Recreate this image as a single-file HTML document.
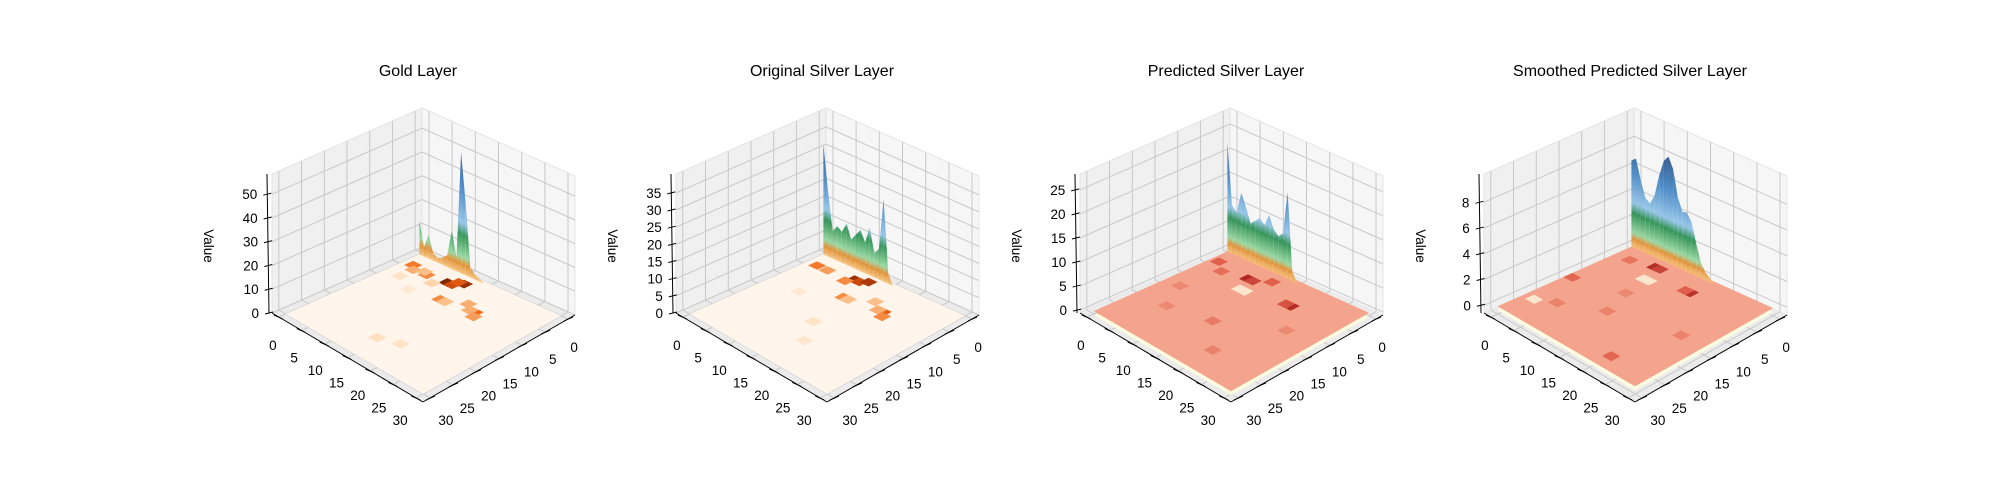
<!DOCTYPE html>
<html><head><meta charset="utf-8"><style>
html,body{margin:0;padding:0;background:#fff;}
svg{display:block;font-family:"Liberation Sans",sans-serif;}
</style></head><body>
<svg id="chart" width="2000" height="500" viewBox="0 0 2000 500" xmlns="http://www.w3.org/2000/svg">
<defs id="defs"></defs>
</svg>
<script>
// ---- data ----
const panelTitles = ["Gold Layer","Original Silver Layer","Predicted Silver Layer","Smoothed Predicted Silver Layer"];
const zTicks1 = [0,10,20,30,40,50];
const zTicks2 = [0,5,10,15,20,25,30,35];
const zTicks3 = [0,5,10,15,20,25];
const zTicks4 = [0,2,4,6,8];
const xyTicks = [0,5,10,15,20,25,30];
// ridge heights along the back edge (index = grid coordinate 0..)
const ridge1 = [14,4,10,3,2,3,5,16,6,51,30,4,2,1,0];
const ridge2 = [32,19,8,10,9,12,8,10,12,9,14,7,9,24,3,0];
const ridge3 = [22.5,10,9,13.5,11,8,9,10,9,11.5,9,8,9,18,2,0];
const ridge4 = [6.7,7,5.5,4.3,4,4.8,6.5,7.8,8.3,7.5,5.5,4.5,4.6,4,2.5,1.2,0.6,0.3,0];
// floor hot cells: [a, b, intensity]
const cells1 = [[9.6,4.2,1],[10.6,4.2,0.8],[11.8,2.8,0.95],[10.8,3,0.7],[1.9,3.9,0.55],[3,5,0.4],[5.6,4.7,0.5],[4.6,4.2,0.35],[12.6,8.8,0.5],[13.6,8.8,0.35],[19.2,8,0.6],[18.2,8,0.4],[20,9,0.45],[16.7,6.8,0.4],[14,24,0.18],[17.7,22.6,0.15],[7,10,0.1],[3,8,0.15],[8,6,0.25]];
const cells2 = [[9.3,3.2,0.95],[10.3,3.2,0.8],[11.4,2.3,0.9],[8.5,4.5,0.5],[2,4,0.55],[4.2,4,0.45],[12,8.4,0.5],[13,8.4,0.35],[19.6,7.5,0.65],[18.6,7.5,0.4],[20.5,8.5,0.5],[16.5,6,0.35],[14,17,0.15],[17,22,0.12],[6,12,0.1]];
const cells3 = [[8.6,4.8,0.95],[9.6,4.8,0.7],[19.4,6.4,0.9],[18.4,6.4,0.6],[1.5,4,0.5],[4,6,0.4],[12,3,0.5],[14,18,0.3],[20,24,0.25],[6,20,0.2],[3,14,0.2],[24,12,0.2]];
const light3 = [[10,8],[11,8]];
const cells4 = [[7.4,2.9,0.9],[8.4,2.9,0.7],[17,5,0.85],[16,5,0.5],[1,14.6,0.45],[21.6,26.8,0.45],[5,22,0.25],[12,18,0.25],[3,4,0.35],[25,15,0.25],[10,12,0.2]];
const light4 = [[8.8,6.8],[9.8,6.8],[2,24]];

const svg = document.getElementById('chart');
const defs = document.getElementById('defs');
const NS = "http://www.w3.org/2000/svg";
function el(tag, attrs, parent){ const e=document.createElementNS(NS,tag); for(const k in attrs) e.setAttribute(k,attrs[k]); (parent||svg).appendChild(e); return e; }

const panelCfg = [
 {zmin:0, zmax:58.5, zt:zTicks1, ridge:ridge1, cells:cells1, light:[], kind:'cream'},
 {zmin:0, zmax:40.5, zt:zTicks2, ridge:ridge2, cells:cells2, light:[], kind:'cream'},
 {zmin:-0.6, zmax:28.3, zt:zTicks3, ridge:ridge3, cells:cells3, light:light3, kind:'red'},
 {zmin:-0.6, zmax:10.2, zt:zTicks4, ridge:ridge4, cells:cells4, light:light4, kind:'red'}
];
const CB={x:422,y:247}, CL={x:272,y:313}, CR={x:575,y:315}, CF={x:423,y:402};
const DX = 404, HZ = 139;

function lerpC(c1,c2,t){ const p=c1.match(/\w\w/g).map(h=>parseInt(h,16)), q=c2.match(/\w\w/g).map(h=>parseInt(h,16)); return 'rgb('+p.map((v,i)=>Math.round(v+(q[i]-v)*t)).join(',')+')'; }
function ramp(stops,t){ t=Math.max(0,Math.min(1,t)); for(let i=1;i<stops.length;i++){ if(t<=stops[i][0]){ const a=stops[i-1],b=stops[i]; return lerpC(a[1],b[1],(t-a[0])/(b[0]-a[0])); } } return lerpC(stops[stops.length-1][1],stops[stops.length-1][1],0); }
const oranges=[[0,'fff5eb'],[0.3,'fdd0a2'],[0.6,'f16913'],[0.85,'c4420b'],[1,'7f2704']];
const reds=[[0,'f4a48c'],[0.5,'e0604c'],[1,'a8201e']];

panelCfg.forEach((cfg,pi)=>{
  const off = DX*pi;
  const k = HZ/(cfg.zmax-cfg.zmin);
  function P(a,b,z){ const s=(a+1.5)/33, t=(b+1.5)/33;
    const x=CB.x*(1-s)*(1-t)+CR.x*s*(1-t)+CL.x*(1-s)*t+CF.x*s*t+off;
    const y=CB.y*(1-s)*(1-t)+CR.y*s*(1-t)+CL.y*(1-s)*t+CF.y*s*t-(z-cfg.zmin)*k;
    return [x,y]; }
  const pts = arr => arr.map(p=>p.map(v=>v.toFixed(1)).join(',')).join(' ');
  const g = el('g',{});
  
  
  const zmn=cfg.zmin, zmx=cfg.zmax;
  const lw=el('polygon',{points:pts([P(-1.5,-1.5,zmn),P(-1.5,31.5,zmn),P(-1.5,31.5,zmx),P(-1.5,-1.5,zmx)]),fill:'#f0f0f0',stroke:'#e0e0e0','stroke-width':0.8},g);
   
  const rw=el('polygon',{points:pts([P(-1.5,-1.5,zmn),P(31.5,-1.5,zmn),P(31.5,-1.5,zmx),P(-1.5,-1.5,zmx)]),fill:'#f6f6f6',stroke:'#e0e0e0','stroke-width':0.8},g);
   
  const fl=el('polygon',{points:pts([P(-1.5,-1.5,zmn),P(31.5,-1.5,zmn),P(31.5,31.5,zmn),P(-1.5,31.5,zmn)]),fill:'#ebebeb'},g);
   
  const gg=el('g',{stroke:'#c8c8c8','stroke-width':1,fill:'none'},g);
   
  xyTicks.forEach(v=>{
    el('polyline',{points:pts([P(-1.5,v,zmx),P(-1.5,v,zmn),P(31.5,v,zmn)])},gg);
    el('polyline',{points:pts([P(v,-1.5,zmx),P(v,-1.5,zmn),P(v,31.5,zmn)])},gg);
  });
  cfg.zt.forEach(z=>{ el('polyline',{points:pts([P(-1.5,31.5,z),P(-1.5,-1.5,z),P(31.5,-1.5,z)])},gg); });
  const fs=el('g',{},g);
   
  if(cfg.kind==='cream'){
    el('polygon',{points:pts([P(0,0,0),P(30,0,0),P(30,30,0),P(0,30,0)]),fill:'#fff5eb'},fs);
  } else {
    el('polygon',{points:pts([P(0,0,0),P(30,0,0),P(30,30,0),P(0,30,0)]),fill:'#fdfbe0',transform:'translate(0,4)'},fs);
    el('polygon',{points:pts([P(0,0,0),P(30,0,0),P(30,30,0),P(0,30,0)]),fill:'#f4a48c'},fs);
  }
  const W=2;
  cfg.cells.forEach(c=>{
    const a=c[0]-W/2,b=c[1]-W/2;
    const col = cfg.kind==='cream'? ramp(oranges,c[2]) : ramp(reds,c[2]);
    const r=el('polygon',{points:pts([P(a,b,0),P(a+W,b,0),P(a+W,b+W,0),P(a,b+W,0)]),fill:col},fs);
     
  });
  cfg.light.forEach(c=>{
    const a=c[0]-W/2,b=c[1]-W/2;
    const r=el('polygon',{points:pts([P(a,b,0),P(a+W,b,0),P(a+W,b+W,0),P(a,b+W,0)]),fill:'#fde6cf'},fs);
     
  });
  const rg=el('g',{opacity:0.88},g);
   
  const hmax=Math.max(...cfg.ridge);
  for(let i=0;i<cfg.ridge.length-1;i++){
    const h0=cfg.ridge[i], h1=cfg.ridge[i+1];
    if(h0<=0 && h1<=0) continue;
    const bb=0.6;
    const base0=P(i,bb,0), base1=P(i+1,bb,0);
    const gid='gr'+pi+'_'+i;
    const by=(base0[1]+base1[1])/2;
    const lg=el('linearGradient',{id:gid,gradientUnits:'userSpaceOnUse',x1:0,x2:0,y1:by,y2:by-hmax*k},defs);
    [[0,'#f6c37a'],[0.08,'#e38a26'],[0.14,'#8fd49a'],[0.32,'#1f8a48'],[0.42,'#8cc0e6'],[0.7,'#3b7fc2'],[1,'#1f4a85']].forEach(s=>el('stop',{offset:s[0],'stop-color':s[1]},lg));
    const poly=el('polygon',{points:pts([base0,P(i,bb,h0),P(i+1,bb,h1),base1]),fill:'url(#'+gid+')'},rg);
     
  }
  const ax=el('g',{stroke:'#000','stroke-width':1,fill:'none'},g);
   
  el('polyline',{points:pts([P(-1.5,31.5,zmn),P(31.5,31.5,zmn)])},ax);
  el('polyline',{points:pts([P(31.5,-1.5,zmn),P(31.5,31.5,zmn)])},ax);
  const zl0=P(-1.5,31.5,zmn), zl1=P(-1.5,31.5,zmx);
  el('line',{x1:zl0[0]-3,y1:zl0[1],x2:zl1[0]-5,y2:zl1[1]},ax);
  const tl=el('g',{'font-size':13.5,fill:'#000'},g);
   
  xyTicks.forEach(v=>{
    const f=v/30;
    const p=P(v,31.5,zmn);
    el('line',{x1:p[0]-5,y1:p[1]-2,x2:p[0]+4,y2:p[1]+2},ax);
    const t=el('text',{x:p[0]-6-10*f,y:p[1]+33-6*f,'text-anchor':'middle'},tl); t.textContent=v;
    const q=P(31.5,v,zmn);
    el('line',{x1:q[0]+5,y1:q[1]-2,x2:q[0]-4,y2:q[1]+2},ax);
    const t2=el('text',{x:q[0]+6+10*f,y:q[1]+33-6*f,'text-anchor':'middle'},tl); t2.textContent=v;
  });
  cfg.zt.forEach(z=>{
    const p=P(-1.5,31.5,z); const fr=(z-zmn)/(zmx-zmn); const xx=p[0]-3-2*fr;
    el('line',{x1:xx-4,y1:p[1]+1,x2:xx+4,y2:p[1]-1},ax);
    const t=el('text',{x:xx-10,y:p[1]+5,'text-anchor':'end'},tl); t.textContent=z;
  });
  const vl=el('text',{x:0,y:0,'font-size':13.5,'text-anchor':'middle',transform:'translate('+(204+off)+',246) rotate(90)'},g);
   
  vl.textContent='Value';
  const tt=el('text',{x:418+off,y:76,'font-size':16,'text-anchor':'middle'},g);
   
  tt.textContent=panelTitles[pi];
});
</script>
</body></html>
